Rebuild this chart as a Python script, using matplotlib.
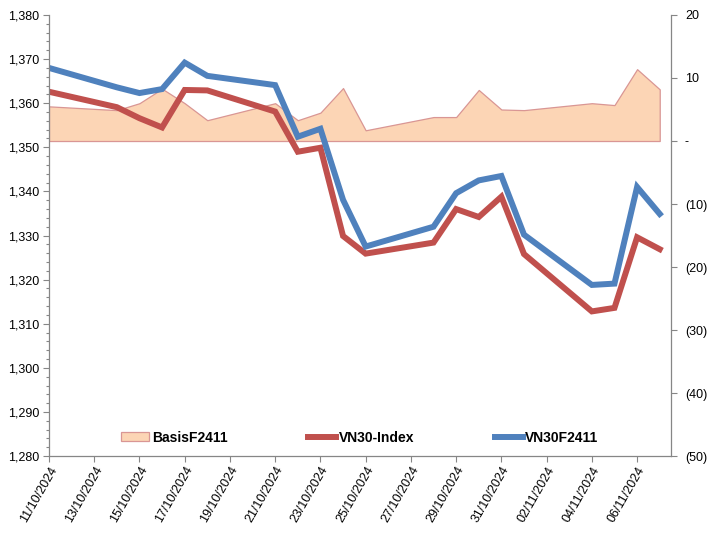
import numpy as np
import pandas as pd
import matplotlib
matplotlib.use("Agg")
import matplotlib.pyplot as plt
import matplotlib.dates as mdates
from matplotlib.ticker import FuncFormatter, MultipleLocator
from matplotlib.patches import Patch

plt.rcParams['font.family'] = ['Liberation Sans', 'DejaVu Sans']

# data
dates = pd.to_datetime([
    "2024-10-11", "2024-10-14", "2024-10-15", "2024-10-16", "2024-10-17",
    "2024-10-18", "2024-10-21", "2024-10-22", "2024-10-23", "2024-10-24",
    "2024-10-25", "2024-10-28", "2024-10-29", "2024-10-30", "2024-10-31",
    "2024-11-01", "2024-11-04", "2024-11-05", "2024-11-06", "2024-11-07",
])
vn30_index = [1362.6, 1359.1, 1356.6, 1354.5, 1363.0, 1362.9, 1358.1, 1349.0, 1349.9, 1329.9,
              1325.9, 1328.4, 1336.0, 1334.2, 1338.8, 1325.8, 1312.8, 1313.6, 1329.6, 1326.9]
vn30f2411 = [1368.0, 1363.6, 1362.3, 1363.2, 1369.2, 1366.2, 1364.1, 1352.4, 1354.2, 1338.1,
             1327.5, 1332.0, 1339.6, 1342.5, 1343.5, 1330.2, 1318.8, 1319.1, 1341.0, 1334.9]
basis = [5.5, 4.9, 6.0, 8.3, 6.0, 3.3, 6.0, 3.3, 4.5, 8.4,
         1.7, 3.8, 3.8, 8.1, 5.0, 4.9, 6.0, 5.7, 11.4, 8.2]

BLUE = '#4F81BD'
RED = '#C0504D'
FILL = '#FCD5B5'
EDGE = '#D99694'
GREY = '#868686'

fig = plt.figure(figsize=(7.15, 5.35), dpi=100)
ax = fig.add_axes([0.0685, 0.1475, 0.87, 0.8245])
ax2 = ax.twinx()

# area on secondary axis, kept behind the lines
ax2.fill_between(dates, 0, basis, facecolor=FILL, edgecolor=EDGE, lw=0.9)
ax.set_zorder(ax2.get_zorder() + 1)
ax.patch.set_visible(False)

ax.plot(dates, vn30_index, color=RED, lw=4.3, solid_joinstyle='miter')
ax.plot(dates, vn30f2411, color=BLUE, lw=4.3, solid_joinstyle='miter')

ax.set_ylim(1280, 1380)
ax.yaxis.set_major_locator(MultipleLocator(10))
ax.yaxis.set_minor_locator(MultipleLocator(2))
ax.yaxis.set_major_formatter(FuncFormatter(lambda v, p: f"{v:,.0f}"))

ax2.set_ylim(-50, 20)
ax2.yaxis.set_major_locator(MultipleLocator(10))


def paren(v, p):
    if abs(v) < 1e-9:
        return "-"
    if v < 0:
        return f"({abs(v):.0f})"
    return f"{v:.0f}"


ax2.yaxis.set_major_formatter(FuncFormatter(paren))

xticks = pd.date_range("2024-10-11", "2024-11-06", freq="2D")
ax.set_xticks(xticks)
ax.xaxis.set_major_formatter(mdates.DateFormatter("%d/%m/%Y"))
ax.set_xlim(dates[0], dates[-1] + pd.Timedelta(hours=12))
plt.setp(ax.get_xticklabels(), rotation=60, ha='right', rotation_mode='anchor')

for a in (ax, ax2):
    for s in a.spines.values():
        s.set_color(GREY)
        s.set_linewidth(0.9)
    a.spines['top'].set_visible(False)
    a.tick_params(colors=GREY, labelcolor='black', labelsize=9, length=4, width=0.8)
ax.spines['right'].set_visible(False)
ax2.spines['left'].set_visible(False)
ax2.spines['bottom'].set_visible(False)
ax.tick_params(axis='y', which='minor', colors=GREY, length=2.5, width=0.8)
ax.tick_params(axis='y', pad=3)
ax2.tick_params(axis='y', pad=6)
ax.tick_params(axis='x', pad=2)

handles = [Patch(facecolor=FILL, edgecolor=EDGE, lw=0.9),
           plt.Line2D([], [], color=RED, lw=4.3),
           plt.Line2D([], [], color=BLUE, lw=4.3)]
labels = ["BasisF2411", "VN30-Index", "VN30F2411"]
ax.legend(handles, labels, loc='center', bbox_to_anchor=(0.5, 0.042), ncol=3,
          frameon=False, handlelength=2.0, handleheight=0.55, handletextpad=0.2,
          columnspacing=5.8, prop={'weight': 'bold', 'size': 10})

fig.savefig("out.png", dpi=100)
